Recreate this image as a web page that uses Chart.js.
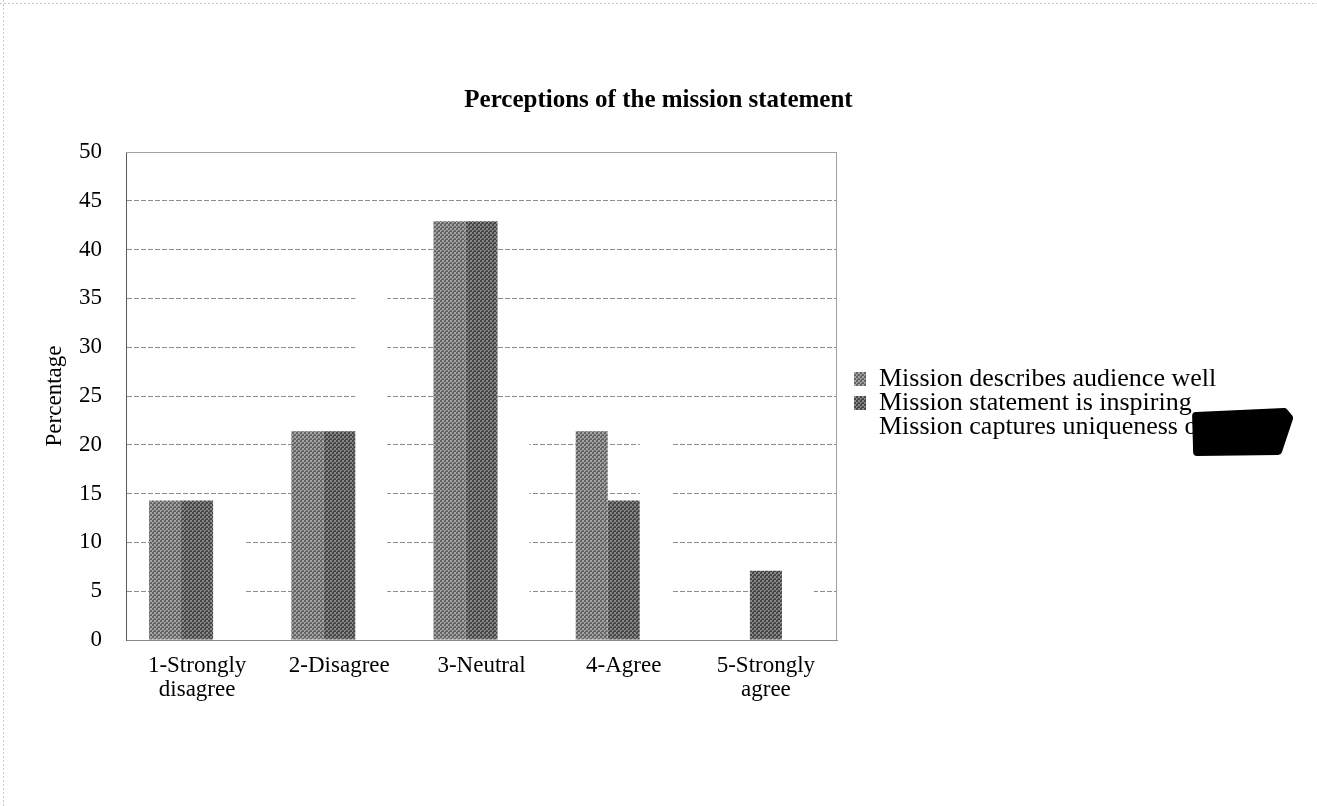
<!DOCTYPE html>
<html>
<head>
<meta charset="utf-8">
<title>Perceptions of the mission statement</title>
<script src="https://cdn.jsdelivr.net/npm/chart.js@4.4.1/dist/chart.umd.min.js"></script>
<style>
  html, body { margin: 0; padding: 0; background: #fff; }
  #wrap { width: 1317px; height: 806px; }
</style>
</head>
<body>
<div id="wrap"><canvas id="missionChart" width="1317" height="806"></canvas></div>
<script>
// data (percent of respondents)
const categories = [['1-Strongly', 'disagree'], '2-Disagree', '3-Neutral', '4-Agree', ['5-Strongly', 'agree']];
const describesAudience = [14.3, 21.4, 42.9, 21.4, 0];
const isInspiring = [14.3, 21.4, 42.9, 14.3, 7.1];
const capturesUniqueness = [14.3, 35.7, 21.4, 21.4, 7.1];
const seriesNames = ['Mission describes audience well', 'Mission statement is inspiring', 'Mission captures uniqueness of'];
const yMin = 0, yMax = 50, yStep = 5;

const serif = "'Liberation Serif', 'Times New Roman', serif";

// halftone-ish fill like the scan
function makePattern(dark, light) {
  var c = document.createElement('canvas');
  c.width = 4; c.height = 4;
  var g = c.getContext('2d');
  g.fillStyle = light;
  g.fillRect(0, 0, 4, 4);
  g.fillStyle = dark;
  g.fillRect(0, 0, 2, 2);
  g.fillRect(2, 2, 2, 2);
  g.fillRect(1, 3, 1, 1);
  return g.createPattern(c, 'repeat');
}

const legendPad = -2;
const legendFont = 26;
const legendBox = 14;

const layoutFix = {
  id: 'layoutFix',
  beforeLayout(chart) {
    const lg = chart.legend;
    if (lg && !lg._fixed) {
      const fit = lg.fit;
      lg.fit = function () { fit.call(this); this.width = 480; };
      lg._fixed = true;
    }
  },
  afterLayout(chart) {
    // put the legend where the scan has it
    chart.legend.left = 854;
    chart.legend.top = 379 - legendFont / 2 - legendPad;
  },
  beforeDraw(chart) {
    const ctx = chart.ctx;
    ctx.save();
    // edges of the scanned page
    ctx.strokeStyle = '#c8c8c8';
    ctx.lineWidth = 1;
    ctx.setLineDash([2, 2]);
    ctx.beginPath();
    ctx.moveTo(0, 3.5); ctx.lineTo(1317, 3.5);
    ctx.moveTo(3.5, 0); ctx.lineTo(3.5, 806);
    ctx.stroke();
    ctx.restore();
  },
  afterDraw(chart) {
    const ctx = chart.ctx;
    const a = chart.chartArea;
    ctx.save();
    // top and right frame of the plot
    ctx.strokeStyle = '#a0a0a0';
    ctx.lineWidth = 1;
    ctx.beginPath();
    ctx.moveTo(a.left, a.top + 0.5); ctx.lineTo(a.right - 0.5, a.top + 0.5); ctx.lineTo(a.right - 0.5, a.bottom);
    ctx.stroke();

    // blacked-out end of the third legend label
    const lg = chart.legend;
    ctx.font = legendFont + 'px ' + serif;
    const tw = ctx.measureText(seriesNames[2]).width;
    const tx = lg.left + legendPad + legendBox + legendFont / 2;
    const cy = lg.top + legendPad + 2 * (legendFont + legendPad) + legendFont / 2;
    const bx = tx + tw - 12;
    ctx.fillStyle = '#000';
    ctx.strokeStyle = '#000';
    ctx.lineJoin = 'round';
    ctx.lineWidth = 8;
    ctx.beginPath();
    ctx.moveTo(bx + 2, cy - 11);
    ctx.lineTo(bx + 90, cy - 15);
    ctx.lineTo(bx + 95, cy - 9);
    ctx.lineTo(bx + 84, cy + 24);
    ctx.lineTo(bx + 3, cy + 25);
    ctx.closePath();
    ctx.fill();
    ctx.stroke();
    ctx.restore();
  }
};

const ctx = document.getElementById('missionChart').getContext('2d');
const missionChart = new Chart(ctx, {
  type: 'bar',
  data: {
    labels: categories,
    datasets: [{
      label: seriesNames[0],
      data: describesAudience,
      backgroundColor: makePattern('#656565', '#a4a4a4'),
      borderWidth: 0
    }, {
      label: seriesNames[1],
      data: isInspiring,
      backgroundColor: makePattern('#474747', '#888888'),
      borderWidth: 0
    }, {
      label: seriesNames[2],
      data: capturesUniqueness,
      backgroundColor: '#ffffff',
      borderWidth: 0
    }]
  },
  options: {
    responsive: false,
    animation: false,
    categoryPercentage: 0.675,
    barPercentage: 1.0,
    layout: {
      padding: { top: 80, left: 0, right: 0, bottom: 66 }
    },
    scales: {
      x: {
        grid: { display: false, drawTicks: false },
        border: { display: true, color: '#8a8a8a' },
        ticks: {
          color: '#000',
          padding: 14,
          maxRotation: 0,
          autoSkip: false,
          font: { family: serif, size: 23, lineHeight: 1.05 }
        },
        afterFit: function (scale) { scale.height = 100; }
      },
      y: {
        min: yMin,
        max: yMax,
        grid: { color: '#8c8c8c', drawTicks: false },
        border: { display: true, color: '#5a5a5a', dash: [5, 2] },
        ticks: {
          stepSize: yStep,
          color: '#000',
          padding: 24,
          font: { family: serif, size: 23 }
        },
        title: {
          display: true,
          text: 'Percentage',
          color: '#000',
          padding: { top: 41, bottom: 0 },
          font: { family: serif, size: 23 }
        },
        afterFit: function (scale) { scale.width = 126; }
      }
    },
    plugins: {
      title: {
        display: true,
        text: 'Perceptions of the mission statement',
        color: '#000',
        padding: { top: 6, bottom: 36 },
        font: { family: serif, size: 25, weight: 'bold' }
      },
      legend: {
        position: 'right',
        align: 'start',
        labels: {
          color: '#000',
          boxWidth: legendBox,
          boxHeight: legendBox,
          padding: legendPad,
          font: { family: serif, size: legendFont }
        }
      },
      tooltip: { enabled: false }
    }
  },
  plugins: [layoutFix]
});
</script>
</body>
</html>
